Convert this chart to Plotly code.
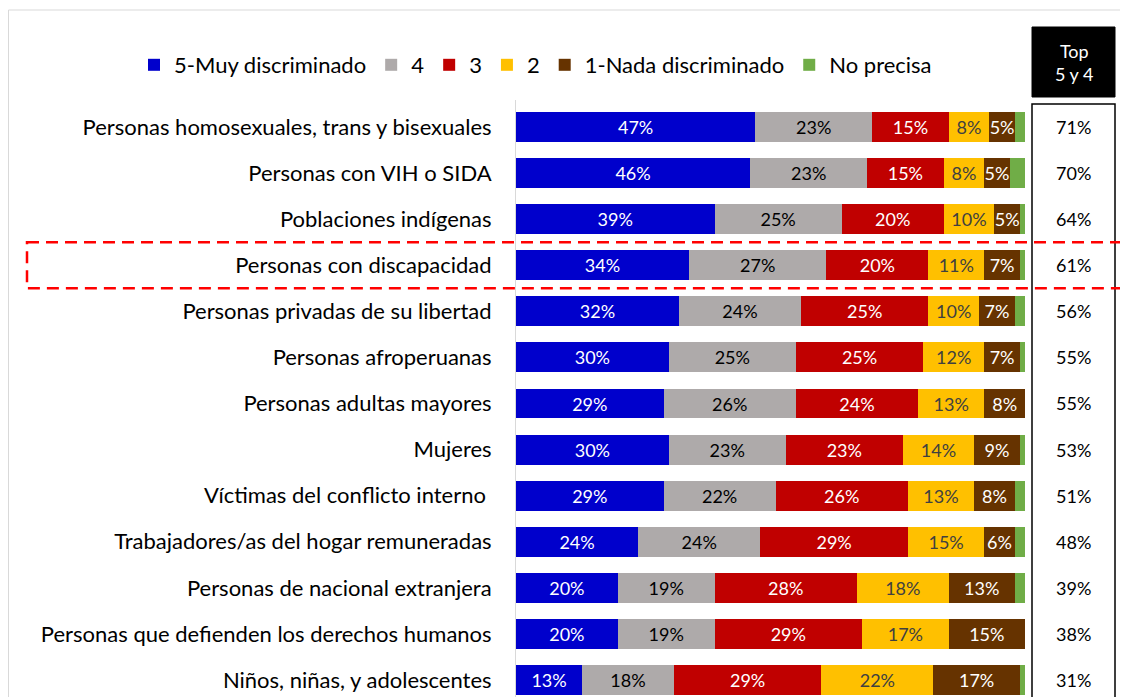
import plotly.graph_objects as go

categories = [
    "Personas homosexuales, trans y bisexuales",
    "Personas con VIH o SIDA",
    "Poblaciones indígenas",
    "Personas con discapacidad",
    "Personas privadas de su libertad",
    "Personas afroperuanas",
    "Personas adultas mayores",
    "Mujeres",
    "Víctimas del conflicto interno ",
    "Trabajadores/as del hogar remuneradas",
    "Personas de nacional extranjera",
    "Personas que defienden los derechos humanos",
    "Niños, niñas, y adolescentes",
]
muy_5 = [47, 46, 39, 34, 32, 30, 29, 30, 29, 24, 20, 20, 13]
val_4 = [23, 23, 25, 27, 24, 25, 26, 23, 22, 24, 19, 19, 18]
val_3 = [15, 15, 20, 20, 25, 25, 24, 23, 26, 29, 28, 29, 29]
val_2 = [8, 8, 10, 11, 10, 12, 13, 14, 13, 15, 18, 17, 22]
nada_1 = [5, 5, 5, 7, 7, 7, 8, 9, 8, 6, 13, 15, 17]
no_precisa = [2, 3, 1, 1, 2, 1, 0, 1, 2, 2, 2, 0, 1]
top_5y4 = [71, 70, 64, 61, 56, 55, 55, 53, 51, 48, 39, 38, 31]

series = [
    ("5-Muy discriminado", muy_5, "#0000CC", "white"),
    ("4", val_4, "#AEAAAA", "black"),
    ("3", val_3, "#C00000", "white"),
    ("2", val_2, "#FFC000", "#404040"),
    ("1-Nada discriminado", nada_1, "#663300", "white"),
    ("No precisa", no_precisa, "#70AD47", None),
]

FONT = "Lato"
# page body has an 8px margin; figure occupies the rest of the 1128x697 window
OFF = 8
W, H = 1128 - OFF, 697 - OFF


def px(x):
    return (x - OFF) / W


def py(y):
    return 1 - (y - OFF) / H


fig = go.Figure()
for name, vals, color, tcolor in series:
    if tcolor is not None:
        kw = dict(
            texttemplate="%{x}%",
            textposition="inside",
            insidetextanchor="middle",
            textangle=0,
            insidetextfont=dict(family=FONT, size=18, color=tcolor),
        )
    else:
        kw = dict(textposition="none")
    fig.add_trace(go.Bar(
        name=name, y=categories, x=vals, orientation="h",
        marker=dict(color=color, line=dict(width=0)),
        hoverinfo="skip", **kw,
    ))

fig.update_layout(
    width=W, height=H,
    barmode="stack", bargap=0.35,
    margin=dict(l=0, r=0, t=0, b=0),
    paper_bgcolor="white", plot_bgcolor="white",
    font=dict(family=FONT, size=22, color="black"),
    uniformtext=dict(minsize=18, mode="show"),
    showlegend=True,
    legend=dict(
        orientation="h", x=px(134), xanchor="left",
        y=py(65), yanchor="middle",
        font=dict(family=FONT, size=22, color="black"),
        traceorder="normal", itemwidth=30, bgcolor="rgba(0,0,0,0)",
    ),
    xaxis=dict(domain=[px(516), px(1025)], range=[0, 100], visible=False, fixedrange=True),
    yaxis=dict(
        domain=[0, py(100)], range=[12.369, -0.586],
        showline=True, linecolor="#D9D9D9", linewidth=1,
        showgrid=False, zeroline=False, ticks="",
        ticklabelstandoff=19, automargin=False,
        tickfont=dict(family=FONT, size=22, color="black"),
    ),
)

shapes = []
# outer light border
shapes.append(dict(type="rect", xref="paper", yref="paper",
                   x0=px(8.5), x1=1.05, y0=-0.05, y1=py(10),
                   line=dict(color="#D9D9D9", width=1), fillcolor="rgba(0,0,0,0)", layer="below"))
# black header box
shapes.append(dict(type="rect", xref="paper", yref="paper",
                   x0=px(1032), x1=px(1115), y0=py(97), y1=py(27),
                   line=dict(color="black", width=1), fillcolor="black"))
# white bordered box for top values
shapes.append(dict(type="rect", xref="paper", yref="paper",
                   x0=px(1032), x1=px(1115), y0=-0.02, y1=py(104),
                   line=dict(color="black", width=1.5), fillcolor="rgba(0,0,0,0)"))
# red dashed highlight around "Personas con discapacidad"
hi = categories.index("Personas con discapacidad")
shapes.append(dict(type="rect", xref="paper", yref="y",
                   x0=px(27), x1=1.02, y0=hi - 0.5, y1=hi + 0.5,
                   line=dict(color="#FF0000", width=2.5, dash="12px,7px"),
                   fillcolor="rgba(0,0,0,0)"))
fig.update_layout(shapes=shapes)

annotations = [dict(
    xref="paper", yref="paper", x=px(1073.5), y=py(62),
    text="Top<br>5 y 4", showarrow=False, align="center",
    font=dict(family=FONT, size=18, color="white"),
    xanchor="center", yanchor="middle",
)]
for cat, v in zip(categories, top_5y4):
    annotations.append(dict(
        xref="paper", yref="y", x=px(1073.5), y=cat,
        text=f"{v}%", showarrow=False,
        font=dict(family=FONT, size=18, color="black"),
        xanchor="center", yanchor="middle",
    ))
fig.update_layout(annotations=annotations)

fig.write_html("out.html")
